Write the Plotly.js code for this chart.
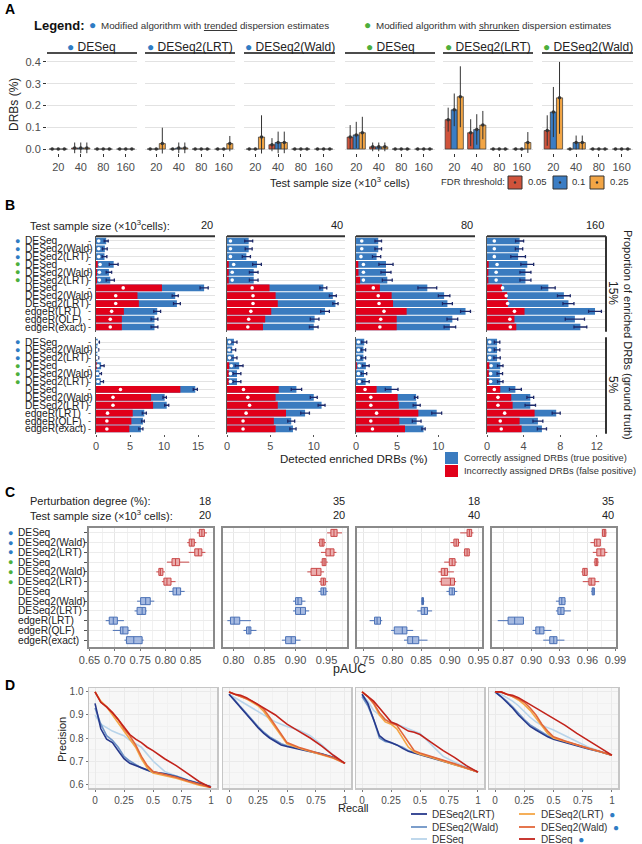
<!DOCTYPE html>
<html><head><meta charset="utf-8">
<script src="https://cdn.plot.ly/plotly-3.0.1.min.js"></script>
<style>body{margin:0;padding:0;background:#fff}#chart{width:642px;height:844px}</style>
</head><body><div id="chart"></div><script>
// ---------------- DATA ----------------
const sizeLabels = ['20','40','80','160'];
const fdrLevels = ['0.05','0.1','0.25'];
const aTitles = ['DESeq','DESeq2(LRT)','DESeq2(Wald)','DESeq','DESeq2(LRT)','DESeq2(Wald)'];
const aGroups = ['trended','trended','trended','shrunken','shrunken','shrunken'];
// Panel A: mean DRBs (%) [fdr][size] and sd
const aMean1 = [[0,0.005,0,0],[0,0.005,0,0],[0,0.005,0,0]];
const aSd1   = [[0,0.025,0,0],[0,0.025,0,0],[0,0.025,0,0]];
const aMean2 = [[0,0,0,0],[0,0.005,0,0],[0.025,0.005,0,0.025]];
const aSd2   = [[0,0,0,0],[0,0.025,0,0],[0.073,0.025,0,0.035]];
const aMean3 = [[0,0.02,0,0],[0,0.03,0,0],[0.055,0.03,0,0]];
const aSd3   = [[0,0.03,0,0],[0,0.05,0,0],[0.1,0.05,0,0]];
const aMean4 = [[0.055,0.01,0,0],[0.065,0.01,0,0],[0.075,0.01,0,0]];
const aSd4   = [[0.055,0.02,0,0],[0.06,0.02,0,0],[0.073,0.02,0,0]];
const aMean5 = [[0.135,0.075,0,0],[0.18,0.09,0,0],[0.24,0.11,0,0.03]];
const aSd5   = [[0.055,0.062,0,0],[0.075,0.07,0,0],[0.14,0.065,0,0.048]];
const aMean6 = [[0.085,0,0,0],[0.17,0.03,0,0],[0.235,0.03,0,0]];
const aSd6   = [[0.07,0,0,0],[0.115,0.032,0,0],[0.165,0.032,0,0]];

// Panel B / C methods
const methods = ['DESeq','DESeq2(Wald)','DESeq2(LRT)','DESeq','DESeq2(Wald)','DESeq2(LRT)','DESeq','DESeq2(Wald)','DESeq2(LRT)','edgeR(LRT)','edgeR(QLF)','edgeR(exact)'];
const methodGroup = ['trended','trended','trended','shrunken','shrunken','shrunken','','','','','',''];
const bFacets = ['15%','5%'];
// Panel B: [size][method]  fp = false positives (%), tot = detected (%), errTop = end of error bar, dot = white dot
const bFp15 = [
 [0,0,0,0.25,0.15,0.15,9.7,6.1,6.3,4.1,3.8,3.8],
 [0,0,0,0.2,0.2,0.2,4.9,5.6,5.85,5.1,4.4,4.15],
 [0,0,0,0.28,0.3,0.5,2.9,4.33,4.5,6.15,4.94,4.94],
 [0,0,0,0.18,0.15,0.15,1.64,2.2,2.3,4.1,3.0,3.2]];
const bTot15 = [
 [1.5,1.3,1.25,2.6,1.9,2.1,15.9,11.65,11.9,9.0,8.6,8.6],
 [2.5,2.5,2.23,3.46,3.08,3.08,11.1,12.2,12.5,11.3,10.1,10.0],
 [2.7,2.7,2.5,3.64,3.64,3.8,8.66,10.7,11.1,13.3,11.7,11.4],
 [3.56,3.5,3.4,4.4,4.2,4.2,6.7,8.4,8.9,11.8,9.6,10.2]];
const bErr15 = [
 [1.8,1.65,1.6,3.25,2.3,2.7,16.5,12.1,12.4,9.5,9.1,9.1],
 [2.96,2.9,2.7,3.96,3.58,3.58,11.5,12.6,12.8,11.8,10.6,10.5],
 [3.1,3.1,3.0,4.5,4.25,4.4,9.8,11.4,11.7,13.9,12.35,12.1],
 [4.0,3.9,4.2,5.1,4.8,4.8,7.45,9.1,9.5,12.5,10.65,10.9]];
const bDot15 = [
 [0.4,0.4,0.4,0.6,0.5,0.5,4.0,2.9,2.9,2.3,2.1,2.1],
 [0.4,0.4,0.4,0.77,0.6,0.6,2.9,3.0,3.0,2.75,2.5,2.4],
 [0.7,0.7,0.6,0.9,0.9,0.9,2.1,2.7,2.8,3.4,3.0,2.9],
 [0.8,0.8,0.8,1.1,1.0,1.0,1.7,2.1,2.25,3.0,2.5,2.55]];
const bFp5 = [
 [0,0,0,0.1,0,0,12.4,8.1,8.4,5.4,5.2,4.9],
 [0,0,0,0.25,0.2,0.2,5.96,5.6,5.85,6.8,5.4,5.6],
 [0,0,0,0.1,0,0,2.5,5.06,5.2,7.57,5.26,5.95],
 [0,0,0,0.25,0.2,0.2,1.45,2.65,2.8,5.2,3.56,3.78]];
const bTot5 = [
 [0.25,0.2,0.2,0.75,0.5,0.7,14.6,10.1,10.4,7.1,6.9,6.6],
 [0.8,0.6,0.8,1.4,1.15,1.15,8.0,10.0,10.9,9.0,7.4,7.6],
 [1.0,0.9,0.9,1.2,0.97,1.17,4.33,7.3,7.37,9.8,7.37,8.2],
 [1.1,1.1,1.1,1.45,1.4,1.45,3.1,4.73,4.73,7.56,5.56,6.0]];
const bErr5 = [
 [0.5,0.4,0.4,1.2,0.8,1.1,14.9,10.35,10.7,7.4,7.1,6.9],
 [1.15,1.0,1.15,1.85,1.6,1.6,8.6,10.4,11.3,9.5,7.8,7.96],
 [1.3,1.17,1.17,1.6,1.3,1.6,5.1,7.5,7.8,10.4,7.9,8.4],
 [1.4,1.4,1.45,1.75,1.7,1.75,3.75,5.1,5.3,8.0,6.1,6.5]];
const bDot5 = [
 [0.1,0.1,0.1,0.3,0.2,0.3,3.6,2.5,2.5,1.7,1.6,1.6],
 [0.3,0.25,0.3,0.5,0.4,0.4,1.9,2.4,2.6,2.2,1.85,1.85],
 [0.3,0.3,0.3,0.4,0.3,0.4,1.1,1.8,1.8,2.5,1.8,2.0],
 [0.3,0.3,0.3,0.45,0.4,0.4,0.8,1.2,1.2,1.93,1.45,1.56]];

// Panel C: pAUC box statistics [panel][method]
const cPerturb = ['18','35','18','35'];
const cSizes = ['20','20','40','40'];
const cMed = [
 [0.872,0.852,0.865,0.820,0.790,0.803,0.822,0.761,0.754,0.697,0.716,0.7375],
 [0.962,0.943,0.956,0.946,0.934,0.945,0.945,0.904,0.908,0.801,0.825,0.893],
 [0.934,0.911,0.930,0.904,0.891,0.901,0.904,0.852,0.8555,0.773,0.817,0.835],
 [0.978,0.970,0.9743,0.9695,0.957,0.964,0.966,0.9326,0.9316,0.8822,0.909,0.924]];
const cQ1 = [
 [0.867,0.847,0.858,0.813,0.787,0.797,0.815,0.751,0.744,0.689,0.711,0.723],
 [0.957,0.939,0.949,0.943,0.925,0.941,0.941,0.900,0.900,0.795,0.821,0.884],
 [0.930,0.907,0.9257,0.899,0.885,0.885,0.899,0.851,0.850,0.7686,0.803,0.8265],
 [0.976,0.9674,0.970,0.968,0.955,0.9615,0.965,0.9298,0.9284,0.8752,0.9048,0.9197]];
const cQ3 = [
 [0.877,0.857,0.872,0.828,0.795,0.811,0.830,0.770,0.761,0.705,0.726,0.754],
 [0.967,0.946,0.962,0.949,0.941,0.948,0.949,0.910,0.916,0.810,0.828,0.900],
 [0.938,0.915,0.9338,0.909,0.896,0.908,0.908,0.854,0.861,0.779,0.825,0.8457],
 [0.9796,0.9737,0.9785,0.971,0.9597,0.968,0.9674,0.936,0.935,0.8916,0.9135,0.9274]];
const cLo = [
 [0.8625,0.843,0.846,0.803,0.782,0.793,0.807,0.744,0.739,0.682,0.696,0.719],
 [0.951,0.936,0.941,0.940,0.919,0.938,0.937,0.896,0.896,0.790,0.816,0.878],
 [0.918,0.901,0.924,0.890,0.880,0.882,0.894,0.8497,0.843,0.760,0.7975,0.820],
 [0.9754,0.9632,0.9657,0.9667,0.9535,0.955,0.964,0.9263,0.9263,0.8641,0.9013,0.9128]];
const cHi = [
 [0.882,0.861,0.879,0.847,0.799,0.820,0.838,0.778,0.763,0.718,0.731,0.757],
 [0.975,0.949,0.966,0.952,0.946,0.952,0.952,0.916,0.922,0.828,0.837,0.908],
 [0.941,0.918,0.9355,0.912,0.907,0.911,0.913,0.8555,0.869,0.782,0.836,0.861],
 [0.9803,0.9743,0.9813,0.972,0.9604,0.9726,0.968,0.9368,0.9423,0.8916,0.9215,0.9354]];

// Panel D: precision-recall curves
const dRecall = [0,0.05,0.1,0.15,0.2,0.25,0.3,0.35,0.4,0.45,0.5,0.6,0.7,0.8,0.9,1];
const dMethods = ['DESeq2(LRT)','DESeq2(Wald)','DESeq','DESeq2(LRT)','DESeq2(Wald)','DESeq'];
const dTrended = [false,false,false,true,true,true];
const dPrec1 = [
 [0.95,0.84,0.795,0.78,0.745,0.71,0.69,0.68,0.67,0.66,0.652,0.645,0.632,0.615,0.60,0.588],
 [0.93,0.86,0.81,0.79,0.76,0.72,0.70,0.685,0.67,0.66,0.652,0.646,0.635,0.618,0.602,0.588],
 [0.90,0.86,0.845,0.83,0.82,0.81,0.79,0.775,0.76,0.73,0.70,0.655,0.635,0.615,0.60,0.588],
 [1.0,0.96,0.935,0.90,0.87,0.83,0.80,0.76,0.71,0.67,0.648,0.637,0.625,0.61,0.595,0.585],
 [1.0,0.955,0.935,0.91,0.88,0.84,0.81,0.77,0.72,0.68,0.655,0.642,0.63,0.613,0.598,0.585],
 [1.0,0.955,0.935,0.91,0.88,0.845,0.815,0.795,0.78,0.76,0.745,0.71,0.68,0.645,0.61,0.585]];
const dPrec2 = [
 [0.99,0.96,0.93,0.90,0.87,0.845,0.82,0.80,0.785,0.77,0.763,0.752,0.743,0.73,0.715,0.69],
 [0.99,0.965,0.935,0.905,0.875,0.85,0.825,0.805,0.79,0.775,0.766,0.755,0.745,0.732,0.716,0.69],
 [0.99,0.975,0.96,0.945,0.93,0.915,0.90,0.885,0.87,0.86,0.85,0.835,0.81,0.77,0.725,0.69],
 [1.0,0.99,0.98,0.97,0.955,0.94,0.915,0.88,0.845,0.81,0.775,0.757,0.742,0.727,0.712,0.69],
 [1.0,0.99,0.98,0.97,0.96,0.945,0.925,0.89,0.855,0.815,0.78,0.76,0.745,0.73,0.714,0.69],
 [1.0,0.99,0.985,0.975,0.96,0.945,0.93,0.915,0.90,0.88,0.86,0.83,0.80,0.765,0.725,0.69]];
const dPrec3 = [
 [0.99,0.95,0.88,0.81,0.79,0.78,0.77,0.755,0.742,0.735,0.728,0.715,0.70,0.685,0.67,0.652],
 [0.98,0.94,0.88,0.80,0.785,0.78,0.77,0.76,0.745,0.737,0.73,0.717,0.703,0.686,0.67,0.652],
 [0.99,0.96,0.92,0.90,0.88,0.87,0.86,0.85,0.84,0.83,0.82,0.77,0.72,0.695,0.675,0.652],
 [1.0,0.98,0.95,0.90,0.87,0.86,0.84,0.80,0.76,0.74,0.73,0.715,0.70,0.685,0.668,0.652],
 [1.0,0.98,0.95,0.91,0.88,0.865,0.855,0.82,0.78,0.745,0.735,0.72,0.705,0.688,0.67,0.652],
 [1.0,0.98,0.96,0.93,0.90,0.87,0.86,0.845,0.83,0.825,0.815,0.78,0.745,0.715,0.68,0.652]];
const dPrec4 = [
 [1.0,0.98,0.955,0.93,0.90,0.875,0.85,0.835,0.82,0.805,0.795,0.78,0.765,0.752,0.74,0.725],
 [1.0,0.98,0.96,0.935,0.905,0.88,0.857,0.842,0.825,0.81,0.80,0.785,0.768,0.755,0.741,0.725],
 [1.0,0.99,0.975,0.96,0.94,0.915,0.89,0.87,0.855,0.845,0.835,0.81,0.785,0.76,0.742,0.725],
 [1.0,1.0,0.99,0.98,0.965,0.945,0.92,0.885,0.85,0.82,0.80,0.785,0.768,0.755,0.741,0.725],
 [1.0,1.0,0.99,0.98,0.97,0.955,0.93,0.90,0.86,0.83,0.805,0.787,0.77,0.755,0.741,0.725],
 [1.0,1.0,0.99,0.985,0.975,0.96,0.945,0.93,0.915,0.90,0.885,0.855,0.82,0.79,0.757,0.725]];

// ---------------- STYLE / LAYOUT ----------------
const W=642,H=844;
const FONT='"Liberation Sans", Arial, sans-serif';
const BLUE_DOT='#2F7CC4', GREEN_DOT='#4DAF3C';
const fdrColors=['#D0533B','#3B7DC4','#F2A545'];
const aOffsets=[-0.27,0,0.27];
const X=(a,b)=>[a/W,b/W];
const Yd=(t,b)=>[1-b/H,1-t/H];
const PX=x=>x/W, PY=y=>1-y/H;
const data=[], annotations=[], shapes=[];
const layout={width:W,height:H,margin:{l:0,r:0,t:0,b:0},paper_bgcolor:'#fff',plot_bgcolor:'rgba(0,0,0,0)',
  showlegend:false,barmode:'overlay',boxmode:'overlay',font:{family:FONT,size:11,color:'#222'},annotations,shapes};
let axN=0;
function addAxes(xd,yd,xo,yo){
  axN++; const s=axN===1?'':String(axN);
  layout['xaxis'+s]=Object.assign({domain:xd,anchor:'y'+s,zeroline:false,showgrid:false,fixedrange:true,automargin:false},xo);
  layout['yaxis'+s]=Object.assign({domain:yd,anchor:'x'+s,zeroline:false,showgrid:false,fixedrange:true,automargin:false},yo);
  return {x:'x'+s,y:'y'+s};
}
function txt(x,y,text,o){
  o=o||{};
  const font=Object.assign({family:FONT,size:11,color:'#222'},o.font||{});
  const a=Object.assign({xref:'paper',yref:'paper',x:PX(x),y:PY(y),text:text,showarrow:false,xanchor:'left',yanchor:'middle'},o);
  a.font=font; annotations.push(a);
}
const dotSpan=(g)=>g==='trended'?`<span style="color:${BLUE_DOT}">●</span>`:(g==='shrunken'?`<span style="color:${GREEN_DOT}">●</span>`:'');
const tickFont={family:FONT,size:11,color:'#4D4D4D'};

// ---------------- PANEL A ----------------
txt(3,9,'<b>A</b>',{font:{size:14,color:'#000'}});
txt(32,25,'<b>Legend:</b>',{font:{size:13,color:'#111'}});
txt(93,25,'●',{xanchor:'center',font:{size:12,color:BLUE_DOT}});
txt(99,25,'Modified algorithm with <u>trended</u> dispersion estimates',{font:{size:9.8,color:'#333'}});
txt(368,25,'●',{xanchor:'center',font:{size:12,color:GREEN_DOT}});
txt(374,25,'Modified algorithm with <u>shrunken</u> dispersion estimates',{font:{size:9.8,color:'#333'}});

const aMeans=[aMean1,aMean2,aMean3,aMean4,aMean5,aMean6];
const aSds=[aSd1,aSd2,aSd3,aSd4,aSd5,aSd6];
const aPanelX=[[47,137],[145,235],[244,335],[345,435],[443,533],[542,633]];
aPanelX.forEach((p,i)=>{
  const ax=addAxes(X(p[0],p[1]),Yd(53,153.4),
    {range:[0.5,4.5],tickvals:[1,2,3,4],ticktext:sizeLabels,ticks:'outside',ticklen:3,tickcolor:'#333',tickfont:tickFont},
    {range:[-0.02,0.441],tickvals:[0,0.1,0.2,0.3,0.4],ticktext:['0.0','0.1','0.2','0.3','0.4'],showgrid:true,gridcolor:'#E2E2E2',gridwidth:1,
     showticklabels:i===0,ticks:i===0?'outside':'',ticklen:3,tickcolor:'#333',tickfont:tickFont});
  fdrLevels.forEach((f,j)=>{
    const xs=sizeLabels.map((s,k)=>k+1+aOffsets[j]);
    data.push({type:'bar',x:xs,y:aMeans[i][j],width:0.27,xaxis:ax.x,yaxis:ax.y,
      marker:{color:fdrColors[j],line:{color:'#333',width:0.7}},hoverinfo:'skip'});
    data.push({type:'scatter',mode:'markers',x:xs,y:aMeans[i][j],xaxis:ax.x,yaxis:ax.y,cliponaxis:false,
      marker:{color:'#333',size:3.5},error_y:{type:'data',array:aSds[i][j],color:'#333',thickness:1,width:0},hoverinfo:'skip'});
  });
  txt((p[0]+p[1])/2,47,dotSpan(aGroups[i])+' '+aTitles[i],{xanchor:'center',font:{size:12,color:'#222'}});
  shapes.push({type:'line',xref:ax.x+' domain',yref:'paper',x0:0,x1:1,y0:PY(53),y1:PY(53),line:{color:'#111',width:1.6}});
});
txt(14,105,'DRBs (%)',{xanchor:'center',textangle:-90,font:{size:12,color:'#222'}});
txt(340,182,'Test sample size (×10<sup>3</sup> cells)',{xanchor:'center',font:{size:11,color:'#222'}});
txt(439,182,'FDR threshold:',{font:{size:9.5,color:'#333'}});
[[508,526],[553,570],[590,608]].forEach((b,j)=>{
  shapes.push({type:'rect',xref:'paper',yref:'paper',x0:PX(b[0]),x1:PX(b[0]+14),y0:PY(189),y1:PY(176),fillcolor:fdrColors[j],line:{color:'#333',width:1}});
  shapes.push({type:'circle',xref:'paper',yref:'paper',x0:PX(b[0]+5.8),x1:PX(b[0]+8.2),y0:PY(183.7),y1:PY(181.3),fillcolor:'#333',line:{width:0}});
  txt(b[1],182,fdrLevels[j],{font:{size:9.5,color:'#333'}});
});

// ---------------- PANEL B ----------------
txt(3,205,'<b>B</b>',{font:{size:14,color:'#000'}});
txt(28,225,'Test sample size (×10<sup>3</sup>cells):',{font:{size:11}});
const bPanelX=[[96,215],[227,345],[356,475],[487,606]];
const bRange=[17.5,13.6,14.45,13.0];
const bTicks=[[0,5,10,15],[0,5,10],[0,5,10],[0,4,8,12]];
const bFacetY=[[236.3,331.7],[337.3,433.7]];
const bFp=[bFp15,bFp5], bTot=[bTot15,bTot5], bErr=[bErr15,bErr5], bDot=[bDot15,bDot5];
const rowIdx=methods.map((m,i)=>i);
bPanelX.forEach((p,k)=>txt(p[1],225,sizeLabels[k],{xanchor:'right',font:{size:11}}));
bFacets.forEach((fac,f)=>{
  let firstY=null;
  sizeLabels.forEach((s,k)=>{
    const p=bPanelX[k];
    const ax=addAxes(X(p[0],p[1]),Yd(bFacetY[f][0],bFacetY[f][1]),
      {range:[0,bRange[k]],tickvals:bTicks[k],showticklabels:f===1,ticks:f===1?'outside':'',ticklen:2,tickcolor:'#555',tickfont:tickFont},
      {range:[11.6,-0.6],tickvals:rowIdx,showticklabels:false,showgrid:true,gridcolor:'#E3E3E3',gridwidth:1,showline:true,linecolor:'#555',linewidth:1.4});
    if(k===0) firstY=ax.y;
    data.push({type:'bar',orientation:'h',x:bTot[f][k],y:rowIdx,width:0.86,xaxis:ax.x,yaxis:ax.y,
      marker:{color:'#3A7BBF',line:{width:0}},
      error_x:{type:'data',array:bErr[f][k].map((e,i)=>e-bTot[f][k][i]),color:'#1C2868',thickness:1.3,width:1.6},hoverinfo:'skip'});
    data.push({type:'bar',orientation:'h',x:bFp[f][k],y:rowIdx,width:0.86,xaxis:ax.x,yaxis:ax.y,
      marker:{color:'#E1001A',line:{width:0}},hoverinfo:'skip'});
    data.push({type:'scatter',mode:'markers',x:bDot[f][k],y:rowIdx,xaxis:ax.x,yaxis:ax.y,
      marker:{color:'#fff',size:3.6},hoverinfo:'skip'});
    if(f===0) shapes.push({type:'line',xref:ax.x+' domain',yref:'paper',x0:0,x1:1,y0:PY(236.3),y1:PY(236.3),line:{color:'#333',width:2}});
  });
  shapes.push({type:'line',xref:'paper',yref:'paper',x0:PX(606),x1:PX(606),y0:PY(bFacetY[f][0]),y1:PY(bFacetY[f][1]),line:{color:'#333',width:2}});
  methods.forEach((m,i)=>{
    if(methodGroup[i]) annotations.push({xref:'paper',yref:firstY,x:PX(17),y:i,text:'●',showarrow:false,xanchor:'center',yanchor:'middle',
      font:{family:FONT,size:9,color:methodGroup[i]==='trended'?BLUE_DOT:GREEN_DOT}});
    annotations.push({xref:'paper',yref:firstY,x:PX(23),y:i,text:m,showarrow:false,xanchor:'left',yanchor:'middle',font:{family:FONT,size:10.2,color:'#222'}});
    annotations.push({xref:'paper',yref:firstY,x:PX(90),y:i,text:'-',showarrow:false,xanchor:'center',yanchor:'middle',font:{family:FONT,size:9,color:'#333'}});
  });
  txt(613,f===0?293:385,fac,{xanchor:'center',textangle:90,font:{size:12}});
});
txt(628,335,'Proportion of enriched DRBs (ground truth)',{xanchor:'center',textangle:90,font:{size:11}});
txt(354,459,'Detected enriched DRBs (%)',{xanchor:'center',font:{size:11.5}});
shapes.push({type:'rect',xref:'paper',yref:'paper',x0:PX(445),x1:PX(458),y0:PY(464),y1:PY(452),fillcolor:'#3A7BBF',line:{width:0}});
shapes.push({type:'rect',xref:'paper',yref:'paper',x0:PX(445),x1:PX(458),y0:PY(477),y1:PY(465),fillcolor:'#E1001A',line:{width:0}});
txt(462,458,'Correctly assigned DRBs (true positive)',{font:{size:9.3,color:'#333'}});
txt(462,471,'Incorrectly assigned DRBs (false positive)',{font:{size:9.3,color:'#333'}});

// ---------------- PANEL C ----------------
txt(3,492,'<b>C</b>',{font:{size:14,color:'#000'}});
txt(28,501,'Perturbation degree (%):',{font:{size:11}});
txt(28,515,'Test sample size (×10<sup>3</sup> cells):',{font:{size:11}});
const cPanelX=[[89,213],[223,347],[357,482],[492,616]];
const cRange=[[0.649,0.894],[0.783,0.983],[0.738,0.956],[0.858,0.9905]];
const cTick0=[0.65,0.80,0.75,0.87], cDtick=[0.05,0.05,0.05,0.03];
let cFirstY=null;
cPanelX.forEach((p,k)=>{
  txt(p[1],501,cPerturb[k],{xanchor:'right'});
  txt(p[1],515,cSizes[k],{xanchor:'right'});
  const ax=addAxes(X(p[0],p[1]),Yd(528,647),
    {range:cRange[k],tick0:cTick0[k],dtick:cDtick[k],tickformat:'.2f',showgrid:true,gridcolor:'#E6E6E6',
     minor:{tick0:cTick0[k],dtick:cDtick[k]/2,showgrid:true,gridcolor:'#F1F1F1',ticks:''},
     ticks:'outside',ticklen:2,tickcolor:'#777',tickfont:tickFont,showline:true,mirror:true,linecolor:'#8A8A8A',linewidth:2},
    {range:[11.7,-0.5],tickvals:rowIdx,showticklabels:false,showgrid:true,gridcolor:'#ECECEC',
     ticks:k===0?'outside':'',ticklen:3,tickcolor:'#555',showline:true,mirror:true,linecolor:'#8A8A8A',linewidth:2});
  if(k===0) cFirstY=ax.y;
  [[0,6,'#C94848','rgba(226,130,130,0.65)'],[6,12,'#4A70B5','rgba(120,150,210,0.65)']].forEach(g=>{
    const sl=a=>a.slice(g[0],g[1]);
    data.push({type:'box',orientation:'h',y:rowIdx.slice(g[0],g[1]),q1:sl(cQ1[k]),median:sl(cMed[k]),q3:sl(cQ3[k]),
      lowerfence:sl(cLo[k]),upperfence:sl(cHi[k]),width:0.72,whiskerwidth:0,boxpoints:false,xaxis:ax.x,yaxis:ax.y,
      line:{color:g[2],width:1},fillcolor:g[3],hoverinfo:'skip'});
  });
});
methods.forEach((m,i)=>{
  if(methodGroup[i]) annotations.push({xref:'paper',yref:cFirstY,x:PX(10),y:i,text:'●',showarrow:false,xanchor:'center',yanchor:'middle',
    font:{family:FONT,size:9,color:methodGroup[i]==='trended'?BLUE_DOT:GREEN_DOT}});
  annotations.push({xref:'paper',yref:cFirstY,x:PX(16),y:i,text:m,showarrow:false,xanchor:'left',yanchor:'middle',font:{family:FONT,size:10.2,color:'#222'}});
});
txt(350,669,'pAUC',{xanchor:'center',font:{size:12.5}});

// ---------------- PANEL D ----------------
txt(3,685,'<b>D</b>',{font:{size:14,color:'#000'}});
const dPanelX=[[89,217],[223,351],[356,484],[489,618]];
const dPrec=[dPrec1,dPrec2,dPrec3,dPrec4];
const dColors=['#27398C','#6E93C6','#B8D4EA','#F4A647','#E2673A','#C2231B'];
const dOrder=[2,1,0,3,4,5];
dPanelX.forEach((p,k)=>{
  const ax=addAxes(X(p[0],p[1]),Yd(688,788),
    {range:[-0.052,1.052],tickvals:[0,0.25,0.5,0.75,1],ticktext:['0','0.25','0.5','0.75','1'],showgrid:true,gridcolor:'#EAEAEA',
     minor:{tick0:0,dtick:0.125,showgrid:true,gridcolor:'#F1F1F1',ticks:''},
     ticks:'outside',ticklen:2,tickcolor:'#777',tickfont:{family:FONT,size:10,color:'#4D4D4D'},showline:true,mirror:true,linecolor:'#C6C6C6',linewidth:1.5},
    {range:[0.583,1.017],tick0:0.6,dtick:0.1,tickformat:'.1f',showgrid:true,gridcolor:'#EAEAEA',
     minor:{tick0:0.55,dtick:0.05,showgrid:true,gridcolor:'#F1F1F1',ticks:''},
     showticklabels:k===0,ticks:k===0?'outside':'',ticklen:2,tickcolor:'#777',tickfont:{family:FONT,size:10,color:'#4D4D4D'},
     showline:true,mirror:true,linecolor:'#C6C6C6',linewidth:1.5});
  shapes.push({type:'rect',xref:ax.x+' domain',yref:ax.y+' domain',x0:0,x1:1,y0:0,y1:1,fillcolor:'#F7F7F7',line:{width:0},layer:'below'});
  dOrder.forEach(m=>{
    data.push({type:'scatter',mode:'lines',x:dRecall,y:dPrec[k][m],xaxis:ax.x,yaxis:ax.y,line:{color:dColors[m],width:1.6},hoverinfo:'skip'});
  });
});
txt(62,740,'Precision',{xanchor:'center',textangle:-90,font:{size:11}});
txt(354,808,'Recall',{xanchor:'center',font:{size:11}});
const legCols=[[411,430],[519,539]], legRows=[814,827,839];
dMethods.forEach((m,i)=>{
  const c=legCols[i<3?0:1], y=legRows[i%3];
  shapes.push({type:'line',xref:'paper',yref:'paper',x0:PX(c[0]),x1:PX(c[0]+16),y0:PY(y),y1:PY(y),line:{color:dColors[i],width:1.8}});
  txt(c[1],y,m+(dTrended[i]?'  '+`<span style="color:${BLUE_DOT}">●</span>`:''),{font:{size:10,color:'#333'}});
});

Plotly.newPlot('chart',data,layout,{staticPlot:true,displayModeBar:false});
</script></body></html>
